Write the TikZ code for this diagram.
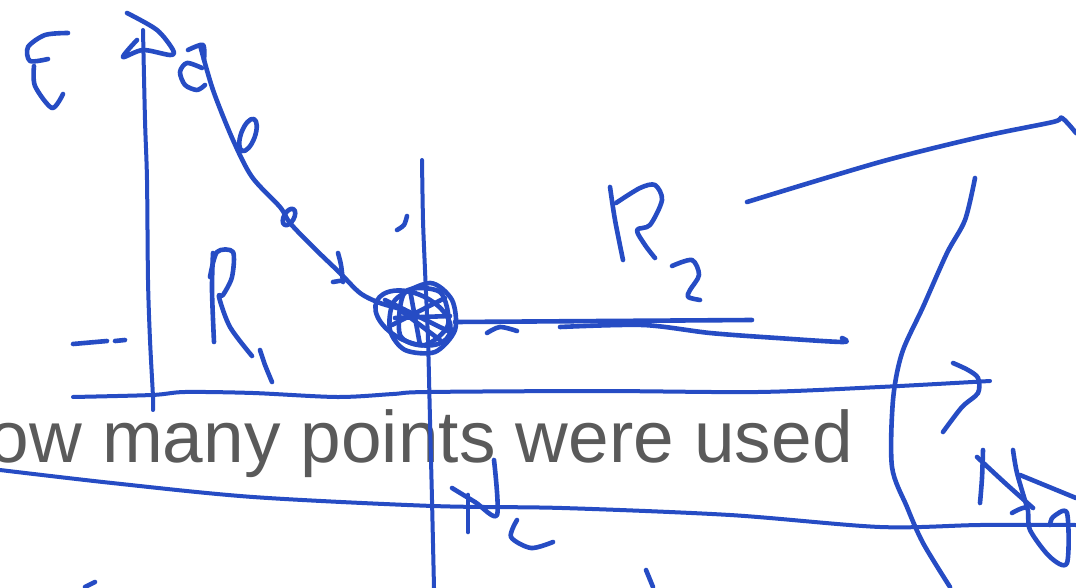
\documentclass[tikz,border=0pt]{standalone}
\usepackage{fontspec}
\setmainfont{Liberation Sans}
\usetikzlibrary{calc}
\definecolor{InkBlue}{HTML}{264CC4}
\definecolor{SlideGray}{HTML}{5A5A5A}

\begin{document}
\begin{tikzpicture}[
  x=1pt, y=-1pt,
  ink/.style={draw=InkBlue, line width=4.6pt, line cap=round, line join=round},
  axis/.style={draw=InkBlue, line width=4pt, line cap=round, line join=round},
  caption/.style={text=SlideGray, inner sep=0pt, font=\fontsize{73}{80}\selectfont}
]
\fill[white] (0,0) rectangle (1076,588);
\useasboundingbox (0,0) rectangle (1076,588);
\node[caption, anchor=base east] (question) at (853,462) {ow many points were used};
\draw[ink] plot[smooth] coordinates {(68,33) (45,35) (28,47) (30,61) (48,59)};
\draw[ink] plot[smooth] coordinates {(34,66) (35,86) (52,108) (63,94)};
\draw[axis] plot[smooth] coordinates {(143,30) (145,120) (147,180) (148,280) (150,340) (153,397) (153,410)};
\draw[ink] plot[smooth] coordinates {(127,13) (157,30) (173,50) (170,55) (143,50) (123,57) (137,40)};
\draw[ink] plot[smooth] coordinates {(188,50) (203,45) (204,60)};
\draw[ink] plot[smooth] coordinates {(202,68) (187,63) (180,72) (185,85) (197,90) (205,85)};
\draw[ink] plot[smooth] coordinates {(200,45) (213,90) (233,140) (252,177) (280,207) (290,223) (313,247) (340,273) (360,293) (380,303) (405,310)};
\draw[ink, rotate around={-20:(248,135)}] (248,135) ellipse (7 and 17);
\draw[ink, rotate around={-30:(289,217)}] (289,217) ellipse (5 and 9);
\draw[ink] plot[smooth] coordinates {(338,253) (341,265) (343,282)};
\draw[ink] (333,282) -- (345,280);
\draw[ink] plot[smooth] coordinates {(397,230) (404,225) (407,216)};
\draw[ink] plot[smooth] coordinates {(213,253) (212,290) (214,342)};
\draw[ink] plot[smooth] coordinates {(210,277) (217,252) (233,252) (232,277) (223,295) (219,297) (230,327) (252,356)};
\draw[ink] plot[smooth] coordinates {(260,350) (265,365) (272,382)};
\draw[ink] (73,344) -- (107,341);
\draw[ink] (115,341) -- (125,340);
\draw[axis] plot[smooth] coordinates {(422,160) (423,220) (425,270) (428,340) (430,420) (432,500) (434,588)};
\draw[ink, rotate around={-25:(413,318)}] (413,318) ellipse (40 and 24);
\draw[ink] plot[smooth cycle] coordinates {(395,300) (430,283) (452,300) (455,330) (435,352) (405,350) (390,330)};
\draw[ink] plot[smooth cycle] coordinates {(405,292) (440,292) (448,325) (425,345) (400,335)};
\draw[ink] (385,300) -- (450,332);
\draw[ink] (392,325) -- (445,298);
\draw[ink] (400,310) -- (440,340);
\draw[ink] (410,290) -- (420,345);
\draw[ink] (395,318) -- (450,316);
\draw[ink] (455,322) -- (752,320);
\draw[ink] plot[smooth] coordinates {(487,333) (500,327) (517,331)};
\draw[ink] plot[smooth] coordinates {(560,327) (643,325) (710,333) (777,338) (843,342) (842,338)};
\draw[ink] plot[smooth] coordinates {(610,187) (615,220) (623,260)};
\draw[ink] plot[smooth] coordinates {(616,203) (640,188) (655,185) (662,200) (650,225) (637,230) (645,245) (655,258)};
\draw[ink] plot[smooth] coordinates {(672,266) (692,260) (699,275) (690,290) (688,297) (700,300)};
\draw[axis] plot[smooth] coordinates {(73,397) (152,395) (185,392) (253,393) (337,397) (393,394) (427,392) (600,391) (758,392) (880,387) (990,381)};
\draw[ink] plot[smooth] coordinates {(953,363) (968,370) (978,378) (978,393) (962,407) (943,432)};
\draw[axis] plot[smooth] coordinates {(0,470) (112,483) (253,497) (433,506) (562,508) (730,515) (880,527) (980,525) (1076,525)};
\draw[ink] (468,495) -- (468,532);
\draw[ink] plot[smooth] coordinates {(452,488) (475,502) (497,515) (494,460)};
\draw[ink] plot[smooth] coordinates {(517,520) (511,537) (531,548) (553,542)};
\draw[ink] plot[smooth] coordinates {(747,202) (880,162) (980,137) (1053,122) (1062,118) (1076,133)};
\draw[ink] plot[smooth] coordinates {(975,178) (965,220) (947,253) (923,307) (902,353) (893,400) (892,467) (907,507) (923,543) (950,587)};
\draw[ink] plot[smooth] coordinates {(983,450) (982,478) (980,503)};
\draw[ink] plot[smooth] coordinates {(977,457) (1005,483) (1033,508)};
\draw[ink] plot[smooth] coordinates {(1013,450) (1017,473) (1027,507)};
\draw[ink] (1020,475) -- (1076,498);
\draw[ink] plot[smooth] coordinates {(1012,513) (1027,508) (1030,530) (1050,557) (1067,563) (1067,513) (1053,517) (1050,525)};
\draw[ink] (85,587) -- (95,582);
\draw[ink] (646,570) -- (653,587);
\end{tikzpicture}
\end{document}
